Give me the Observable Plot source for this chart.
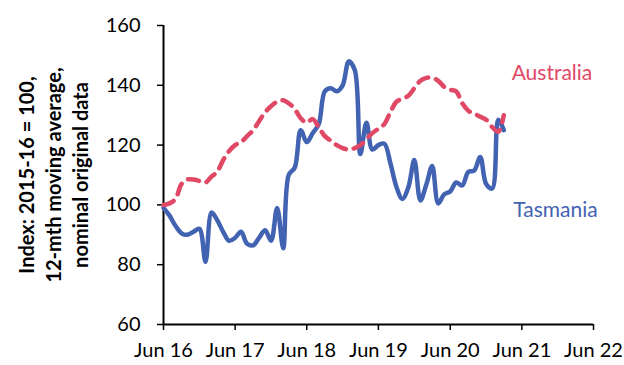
<!DOCTYPE html>
<html><head><meta charset="utf-8">
<script src="https://cdn.jsdelivr.net/npm/d3@7"></script>
<script src="https://cdn.jsdelivr.net/npm/@observablehq/plot@0.6"></script>
<style>
body{margin:0;background:#fff}
#chart svg{display:block}
</style>
</head><body><div id="chart"></div>
<script>
// Monthly series, first value = June 2016
const startYear = 2016;
const startMonthIndex = 5; // June
const tasmania = [99, 96.5, 93, 90.5, 90, 91, 92, 81, 97.5, 95, 91, 88, 89, 91, 87, 86.5, 89, 91.5, 88, 99, 85.5, 110, 112.5, 125, 121, 124, 127, 138, 139, 138, 140, 148, 145, 117, 127.5, 118.5, 120, 120.5, 114, 106, 102, 106, 115, 101.5, 107, 113, 100.5, 103.5, 104.5, 107.5, 106.5, 111, 111.5, 116, 107, 105.5, 128.5, 125];
const australia = [100, 100.5, 102, 107, 108.5, 108.5, 108, 107.5, 109.5, 111, 115, 118, 120, 121, 123, 125, 128, 131, 133, 134.5, 135, 134, 132, 129, 127.5, 128.7, 126, 123, 121.5, 120, 119, 118.5, 119, 120, 122, 124, 125.5, 127, 131, 134.5, 135.5, 136.5, 139, 141.5, 142.5, 142.5, 141.5, 139.5, 138.5, 138, 134, 131.5, 130.5, 129.5, 128.5, 126, 124.5, 130];
const xTickDates = ["2016-06-01", "2017-06-01", "2018-06-01", "2019-06-01", "2020-06-01", "2021-06-01", "2022-06-01"];
const xTickLabels = ["Jun 16", "Jun 17", "Jun 18", "Jun 19", "Jun 20", "Jun 21", "Jun 22"];
const yTicks = [60, 80, 100, 120, 140, 160];
const seriesNames = ["Australia", "Tasmania"];
const labelDates = ["2021-04-10", "2021-04-18"];
const labelValues = [144, 98.3];
const yTitle = "Index: 2015-16 = 100,\n12-mth moving average,\nnominal original data";

const colors = {Australia: "#e04866", Tasmania: "#4263b2"};
const monthDate = i => new Date(Date.UTC(startYear, startMonthIndex + i, 1));
const toRows = (arr, name) => arr.map((v, i) => ({date: monthDate(i), value: v, series: name}));
const ausRows = toRows(australia, "Australia");
const tasRows = toRows(tasmania, "Tasmania");
const labels = seriesNames.map((n, i) => ({name: n, date: new Date(labelDates[i]), value: labelValues[i]}));
const tickDates = xTickDates.map(d => new Date(d));

const font = "Lato, 'Open Sans', sans-serif";

const chart = Plot.plot({
  width: 624,
  height: 365,
  marginLeft: 163,
  marginRight: 31,
  marginTop: 25,
  marginBottom: 41,
  style: {fontFamily: font, background: "#fff", color: "#000"},
  x: {type: "utc", domain: [tickDates[0], tickDates[tickDates.length - 1]]},
  y: {domain: [60, 160]},
  marks: [
    Plot.axisY({ticks: yTicks, tickSize: 6, tickPadding: 17, fontSize: 20, strokeWidth: 1.5, label: null, tickFormat: d => String(d)}),
    Plot.axisX({ticks: tickDates, tickSize: 6, tickPadding: 12, fontSize: 20, strokeWidth: 1.5, label: null,
      tickFormat: (d, i) => xTickLabels[i]}),
    Plot.ruleY([60], {stroke: "#000", strokeWidth: 2}),
    Plot.ruleX([tickDates[0]], {stroke: "#000", strokeWidth: 2}),
    Plot.line(tasRows, {x: "date", y: "value", stroke: colors.Tasmania, strokeWidth: 4.5, curve: "catmull-rom"}),
    Plot.line(ausRows, {x: "date", y: "value", stroke: colors.Australia, strokeWidth: 4.5, curve: "catmull-rom",
      strokeDasharray: "11,8", strokeLinecap: "round"}),
    Plot.text(labels, {x: "date", y: "value", text: "name", fill: d => colors[d.name], textAnchor: "start", fontSize: 21}),
    Plot.text([yTitle], {frameAnchor: "left", rotate: -90, dx: -111, text: d => d, textAnchor: "middle",
      lineAnchor: "middle", lineHeight: 1.35, fontSize: 20, fontWeight: "bold", fill: "#000"})
  ]
});
document.getElementById("chart").appendChild(chart);
</script>
</body></html>
